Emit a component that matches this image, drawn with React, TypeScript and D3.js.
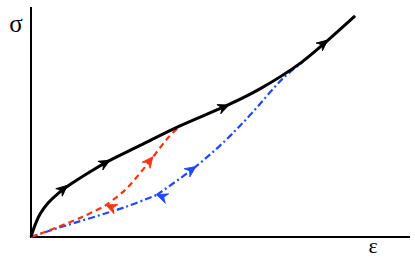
import * as d3 from "d3";

// Stress–strain paths (ε and σ in arbitrary units, 0–100)
type Pt = [number, number];

const monotonic: Pt[] = [
  [0, 0], [0.9, 4.5], [2.4, 10], [4.5, 14.8], [7.2, 19], [10.5, 23],
  [15.6, 28.4], [20.8, 33.3], [28.8, 39.8], [39.3, 48.3], [52, 57.4],
  [60.4, 64.4], [71, 75.5], [78.1, 85.2], [85.5, 96.1],
];

const redUnload: Pt[] = [[0, 0], [3.7, 2.2], [13.5, 8.7], [19.5, 13.5]];
const redReload: Pt[] = [
  [19.5, 13.5], [24.8, 20.4], [28.8, 27.8], [32.2, 34.8], [36.1, 43], [39.3, 48.3],
];

const blueUnload: Pt[] = [[0, 0], [7.1, 3.9], [24.8, 13], [33.2, 18.3]];
const blueReload: Pt[] = [
  [33.2, 18.3], [43.3, 30.4], [51.2, 41.8], [57.8, 53.0], [66.5, 69.0], [71.8, 76.2],
];

// arrow heads: [from, tip] in data units
const blackArrows: [Pt, Pt][] = [
  [[6.3, 17.8], [9.4, 22.2]],
  [[15.6, 28.5], [20.6, 33.2]],
  [[45, 52.5], [52, 57.2]],
  [[73, 78.5], [78.1, 85.4]],
];
const redArrows: [Pt, Pt][] = [
  [[24, 11], [20, 13.8]],
  [[28.8, 27.8], [32.0, 34.6]],
];
const blueArrows: [Pt, Pt][] = [
  [[38, 15.5], [33.4, 18.2]],
  [[39.5, 26], [43.3, 30.4]],
];

const W = 415;
const H = 259;
const RED = "#ff3312";
const BLUE = "#1f48ff";

export default function App() {
  const x = d3.scaleLinear().domain([0, 100]).range([31, 410]);
  const y = d3.scaleLinear().domain([0, 100]).range([237, 7]);

  const line = d3
    .line<Pt>()
    .x((d) => x(d[0]))
    .y((d) => y(d[1]))
    .curve(d3.curveCatmullRom.alpha(0.5));

  const arrow = (a: [Pt, Pt], color: string, key: string) => {
    const [from, tip] = a;
    const tx = x(tip[0]);
    const ty = y(tip[1]);
    const ang = (Math.atan2(ty - y(from[1]), tx - x(from[0])) * 180) / Math.PI;
    return (
      <path
        key={key}
        d="M1,0 L-10,-5 L-6.5,0 L-10,5 Z"
        transform={`translate(${tx},${ty}) rotate(${ang})`}
        fill={color}
        stroke={color}
        strokeWidth={0.8}
        strokeLinejoin="miter"
      />
    );
  };

  return (
    <svg
      width={W}
      height={H}
      style={{ position: "fixed", left: 0, top: 0, background: "#fff" }}
      fontFamily="'Liberation Serif', 'DejaVu Serif', serif"
    >
      {/* axes */}
      <line x1={x(0)} x2={x(0)} y1={y(0) + 1} y2={y(100)} stroke="#000" strokeWidth={2} />
      <line x1={x(0)} x2={x(100)} y1={y(0)} y2={y(0)} stroke="#000" strokeWidth={2} />
      <text x={16} y={32} fontSize={25} textAnchor="middle">σ</text>
      <text x={373} y={253} fontSize={22} textAnchor="middle">ε</text>

      {/* blue dash-dot path */}
      {[blueUnload, blueReload].map((seg, i) => (
        <path
          key={"b" + i}
          d={line(seg) ?? ""}
          fill="none"
          stroke={BLUE}
          strokeWidth={2.2}
          strokeDasharray="7,3,2,3"
        />
      ))}
      {blueArrows.map((a, i) => arrow(a, BLUE, "ba" + i))}

      {/* red dashed path */}
      {[redUnload, redReload].map((seg, i) => (
        <path
          key={"r" + i}
          d={line(seg) ?? ""}
          fill="none"
          stroke={RED}
          strokeWidth={2.2}
          strokeDasharray="6,4"
        />
      ))}
      {redArrows.map((a, i) => arrow(a, RED, "ra" + i))}

      {/* monotonic loading curve */}
      <path
        d={line(monotonic) ?? ""}
        fill="none"
        stroke="#000"
        strokeWidth={3}
        strokeLinejoin="round"
      />
      {blackArrows.map((a, i) => arrow(a, "#000", "ka" + i))}
    </svg>
  );
}
